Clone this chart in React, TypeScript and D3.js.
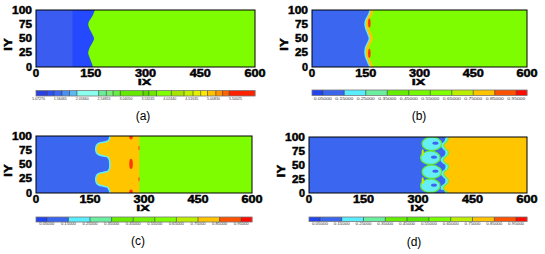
import React from 'react';
import * as d3 from 'd3';

const xTicks = [0, 150, 300, 450, 600];
const yTicks = [0, 25, 50, 75, 100];

// (a) front between light and heavy gas, [IX, IY]
const aFront = [[161, 105], [161, 100], [155, 90], [146, 81], [143, 75], [146, 68], [154, 58], [159, 50], [154, 42], [146, 32], [143, 25], [146, 18], [152, 8], [156, 0], [156, -5]];
const aSplit = 100;
const aBreaks = [1.019, 1.274, 1.427, 1.599, 1.771, 1.938, 2.426, 2.598, 2.750, 2.913, 3.424, 3.552, 3.724, 4.059, 4.344, 4.546, 4.718, 4.871, 5.058, 5.210, 5.358, 5.938];
const aColors = ['#2a3fe0', '#2d50f0', '#3a68f0', '#4a90f0', '#5ab8f2', '#8affee', '#6aee9a', '#78ee78', '#66ee44', '#64e800', '#5cd800', '#6ee800', '#80ff00', '#a4e400', '#c4f000', '#e4f000', '#ffe800', '#ffc000', '#ff9400', '#ff6400', '#ff2200'];
const aLabels = [1.0727, 1.56465, 2.0566, 2.54855, 3.0405, 3.53245, 4.0244, 4.51635, 5.0083, 5.50025];

// (b)
const bFront = [[160, 105], [160, 100], [156, 92], [149, 84], [146, 76], [148, 68], [154, 58], [158, 50], [153, 42], [147, 33], [146, 25], [148, 17], [154, 8], [159, 0], [159, -5]];
const bHot = [[160, 77], [160, 24]];

// (c)
const cFront = [[205, 105], [205, 100], [204, 95], [199, 91], [186, 89], [174, 87], [168, 83], [166, 77], [168, 71], [175, 67], [188, 65], [199, 63], [204, 58], [205, 50], [204, 42], [199, 38], [186, 36], [174, 34], [168, 30], [166, 24], [168, 18], [175, 14], [188, 12], [199, 10], [204, 5], [205, 0], [205, -5]];
const cShock = 287;
const cHot = [[264, 99, 5, 5], [264, 51, 5, 9], [264, 1, 5, 5], [286, 79, 1.5, 4], [286, 24, 1.5, 4]];

// (d)
const dFront = [[384, 105], [384, 100], [381, 93], [373, 88], [371, 84], [376, 79], [383, 74], [382, 68], [373, 63], [370, 58], [376, 53], [383, 50], [382, 43], [373, 38], [371, 34], [376, 29], [383, 24], [382, 18], [373, 13], [370, 8], [376, 3], [384, 0], [384, -5]];
const dCurls = [[338, 88], [334, 63], [338, 38], [334, 13]];
const dPockets = [[366, 98], [360, 51], [366, 2]];

// colour levels shared by (b)-(d)
const fracLevels = [0.05, 0.15, 0.25, 0.35, 0.45, 0.55, 0.65, 0.75, 0.85, 0.95];
const fracBreaks = [0, ...fracLevels, 1];
const bColors = ['#2244ee', '#3a66ee', '#58eeff', '#6aeea0', '#66ee00', '#74f800', '#80ff00', '#bcee00', '#ffc400', '#ff5200', '#ff0a00'];
const cColors = ['#2244ee', '#3a66ee', '#58eeff', '#6aeea0', '#6aee00', '#74f400', '#80ff00', '#bcee00', '#ffc400', '#ff5200', '#ff0a00'];
const dColors = ['#2244ee', '#3a66ee', '#58eeff', '#6aeea0', '#66ee00', '#58e800', '#78ff00', '#bcee00', '#ffc400', '#ff5200', '#ff0a00'];

const BLUE = '#3b66f0';
const GREEN = '#7efc00';
const ORANGE = '#ffc600';
const CYAN = '#66eef4';
const RED = '#ff3a00';

type Sc = d3.ScaleLinear<number, number>;

function regionPath(pts: number[][], x: Sc, y: Sc, dx: number, side: 'left' | 'right') {
  const line = d3.line<number[]>().x(d => x(d[0] + dx)).y(d => y(d[1])).curve(d3.curveCatmullRom.alpha(0.5));
  const body = line(pts)!.slice(1);
  const edge = side === 'left' ? x(-50) : x(650);
  return `M${edge},${y(pts[0][1])}L${body}L${edge},${y(pts[pts.length - 1][1])}Z`;
}

function ell(key: string, ix: number, iy: number, rx: number, ry: number, x: Sc, y: Sc, fill: string, stroke?: string) {
  return <ellipse key={key} cx={x(ix)} cy={y(iy)} rx={x(ix + rx) - x(ix)} ry={y(iy) - y(iy + ry)} fill={fill}
    stroke={stroke || 'none'} strokeWidth={1.2} />;
}

const fmt = d3.format('.5f');

function Colorbar({ x0, x1, y, h, breaks, colors, labels, labelY, labelW }: any) {
  const s = d3.scaleLinear().domain([breaks[0], breaks[breaks.length - 1]]).range([x0, x1]);
  return (
    <g>
      {colors.map((c: string, i: number) => (
        <rect key={i} x={s(breaks[i])} y={y} width={s(breaks[i + 1]) - s(breaks[i]) + 0.3} height={h} fill={c} />
      ))}
      {breaks.slice(1, -1).map((b: number, i: number) => (
        <line key={i} x1={s(b)} x2={s(b)} y1={y} y2={y + h} stroke="#333" strokeWidth={0.6} />
      ))}
      <rect x={x0} y={y} width={x1 - x0} height={h} fill="none" stroke="#777" strokeWidth={0.8} />
      {labels.map((v: number, i: number) => (
        <text key={i} x={s(v)} y={labelY} fontSize={4} textAnchor="middle" fill="#333"
          textLength={labelW} lengthAdjust="spacingAndGlyphs">{fmt(v)}</text>
      ))}
    </g>
  );
}

const panels = [
  {
    id: 'a', x0: 36, x1: 255, y0: 10, y1: 67, barY: 90.5, barH: 5.5, labelY: 100, labelW: 13,
    breaks: aBreaks, colors: aColors, labels: aLabels, tag: '(a)', tagX: 143, tagY: 119.5,
    draw: (x: Sc, y: Sc) => (
      <g>
        <rect x={x(0)} y={y(100)} width={x(600) - x(0)} height={y(0) - y(100)} fill={GREEN} />
        <path d={regionPath(aFront, x, y, 0, 'left')} fill="#2449ff" />
        <rect x={x(0)} y={y(100)} width={x(aSplit) - x(0)} height={y(0) - y(100)} fill="#3a5cf0" />
      </g>
    ),
  },
  {
    id: 'b', x0: 312, x1: 527, y0: 10, y1: 67, barY: 90, barH: 5.5, labelY: 99.7, labelW: 18,
    breaks: fracBreaks, colors: bColors, labels: fracLevels, tag: '(b)', tagX: 419, tagY: 119.5,
    draw: (x: Sc, y: Sc) => (
      <g>
        <rect x={x(0)} y={y(100)} width={x(600) - x(0)} height={y(0) - y(100)} fill={GREEN} />
        <path d={regionPath(bFront, x, y, 12, 'left')} fill={ORANGE} />
        {bHot.map((d, i) => ell('h' + i, d[0], d[1], 3.5, 8, x, y, RED))}
        <path d={regionPath(bFront, x, y, 4, 'left')} fill={CYAN} />
        <path d={regionPath(bFront, x, y, 0, 'left')} fill={BLUE} />
      </g>
    ),
  },
  {
    id: 'c', x0: 36, x1: 252, y0: 136, y1: 193, barY: 217, barH: 5, labelY: 225, labelW: 15,
    breaks: fracBreaks, colors: cColors, labels: fracLevels, tag: '(c)', tagX: 138, tagY: 244.5,
    draw: (x: Sc, y: Sc) => (
      <g>
        <rect x={x(0)} y={y(100)} width={x(600) - x(0)} height={y(0) - y(100)} fill={GREEN} />
        <rect x={x(0)} y={y(100)} width={x(cShock) - x(0)} height={y(0) - y(100)} fill={ORANGE} />
        {cHot.map((d, i) => ell('h' + i, d[0], d[1], d[2], d[3], x, y, RED))}
        <path d={regionPath(cFront, x, y, 0, 'left')} fill={BLUE} stroke={CYAN} strokeWidth={1.6} />
      </g>
    ),
  },
  {
    id: 'd', x0: 309, x1: 527, y0: 137, y1: 193, barY: 217, barH: 4.5, labelY: 225, labelW: 16,
    breaks: fracBreaks, colors: dColors, labels: fracLevels, tag: '(d)', tagX: 414, tagY: 246,
    draw: (x: Sc, y: Sc) => (
      <g>
        <rect x={x(0)} y={y(100)} width={x(600) - x(0)} height={y(0) - y(100)} fill={BLUE} />
        <path d={regionPath(dFront, x, y, -8, 'right')} fill={CYAN} />
        {dCurls.map((d, i) => ell('g' + i, d[0], d[1], 27, 12, x, y, CYAN, '#5ee830'))}
        {dCurls.map((d, i) => ell('k' + i, d[0] + 10, d[1] + 1, 8, 3, x, y, BLUE))}
        {dPockets.map((d, i) => ell('p' + i, d[0], d[1], 8, 4, x, y, BLUE))}
        {[72, 22].map((v, i) => ell('y' + i, 313, v, 3, 6, x, y, '#c4f000'))}
        <path d={regionPath(dFront, x, y, 0, 'right')} fill={ORANGE} stroke="#66ee44" strokeWidth={1.2} />
      </g>
    ),
  },
];

export default function App() {
  return (
    <svg width={545} height={254} style={{ position: 'absolute', left: 0, top: 0, background: '#fff' }}
      fontFamily="'Liberation Sans', Arial, sans-serif">
      {panels.map(p => {
        const x = d3.scaleLinear().domain([0, 600]).range([p.x0, p.x1]);
        const y = d3.scaleLinear().domain([0, 100]).range([p.y1, p.y0]);
        return (
          <g key={p.id}>
            <clipPath id={'clip-' + p.id}>
              <rect x={p.x0} y={p.y0} width={p.x1 - p.x0} height={p.y1 - p.y0} />
            </clipPath>
            <g clipPath={`url(#clip-${p.id})`}>{p.draw(x, y)}</g>
            <rect x={p.x0} y={p.y0} width={p.x1 - p.x0} height={p.y1 - p.y0} fill="none" stroke="#000" strokeWidth={1} />
            <g fontSize={10} fontWeight="bold" stroke="#000" strokeWidth={0.45}>
              {yTicks.map(t => (
                <text key={'y' + t} x={p.x0 - 4} y={y(t) + 3.5} textAnchor="end"
                  textLength={String(t).length * 7 - 1} lengthAdjust="spacingAndGlyphs">{t}</text>
              ))}
              {xTicks.map(t => (
                <text key={'x' + t} x={x(t)} y={p.y1 + 9.5} textAnchor="middle"
                  textLength={String(t).length * 7.4 - 1} lengthAdjust="spacingAndGlyphs">{t}</text>
              ))}
              <text x={(p.x0 + p.x1) / 2 - 1} y={p.y1 + 18.2} textAnchor="middle" fontSize={9.8}
                textLength={13.5} lengthAdjust="spacingAndGlyphs">IX</text>
              <text transform={`translate(${p.x0 - 24.5},${(p.y0 + p.y1) / 2 + 6}) rotate(-90)`} textAnchor="middle"
                fontSize={10} textLength={12.5} lengthAdjust="spacingAndGlyphs">IY</text>
            </g>
            <Colorbar x0={p.x0} x1={p.x1} y={p.barY} h={p.barH} breaks={p.breaks} colors={p.colors}
              labels={p.labels} labelY={p.labelY} labelW={p.labelW} />
            <text x={p.tagX} y={p.tagY} textAnchor="middle" fontSize={12}>{p.tag}</text>
          </g>
        );
      })}
    </svg>
  );
}
